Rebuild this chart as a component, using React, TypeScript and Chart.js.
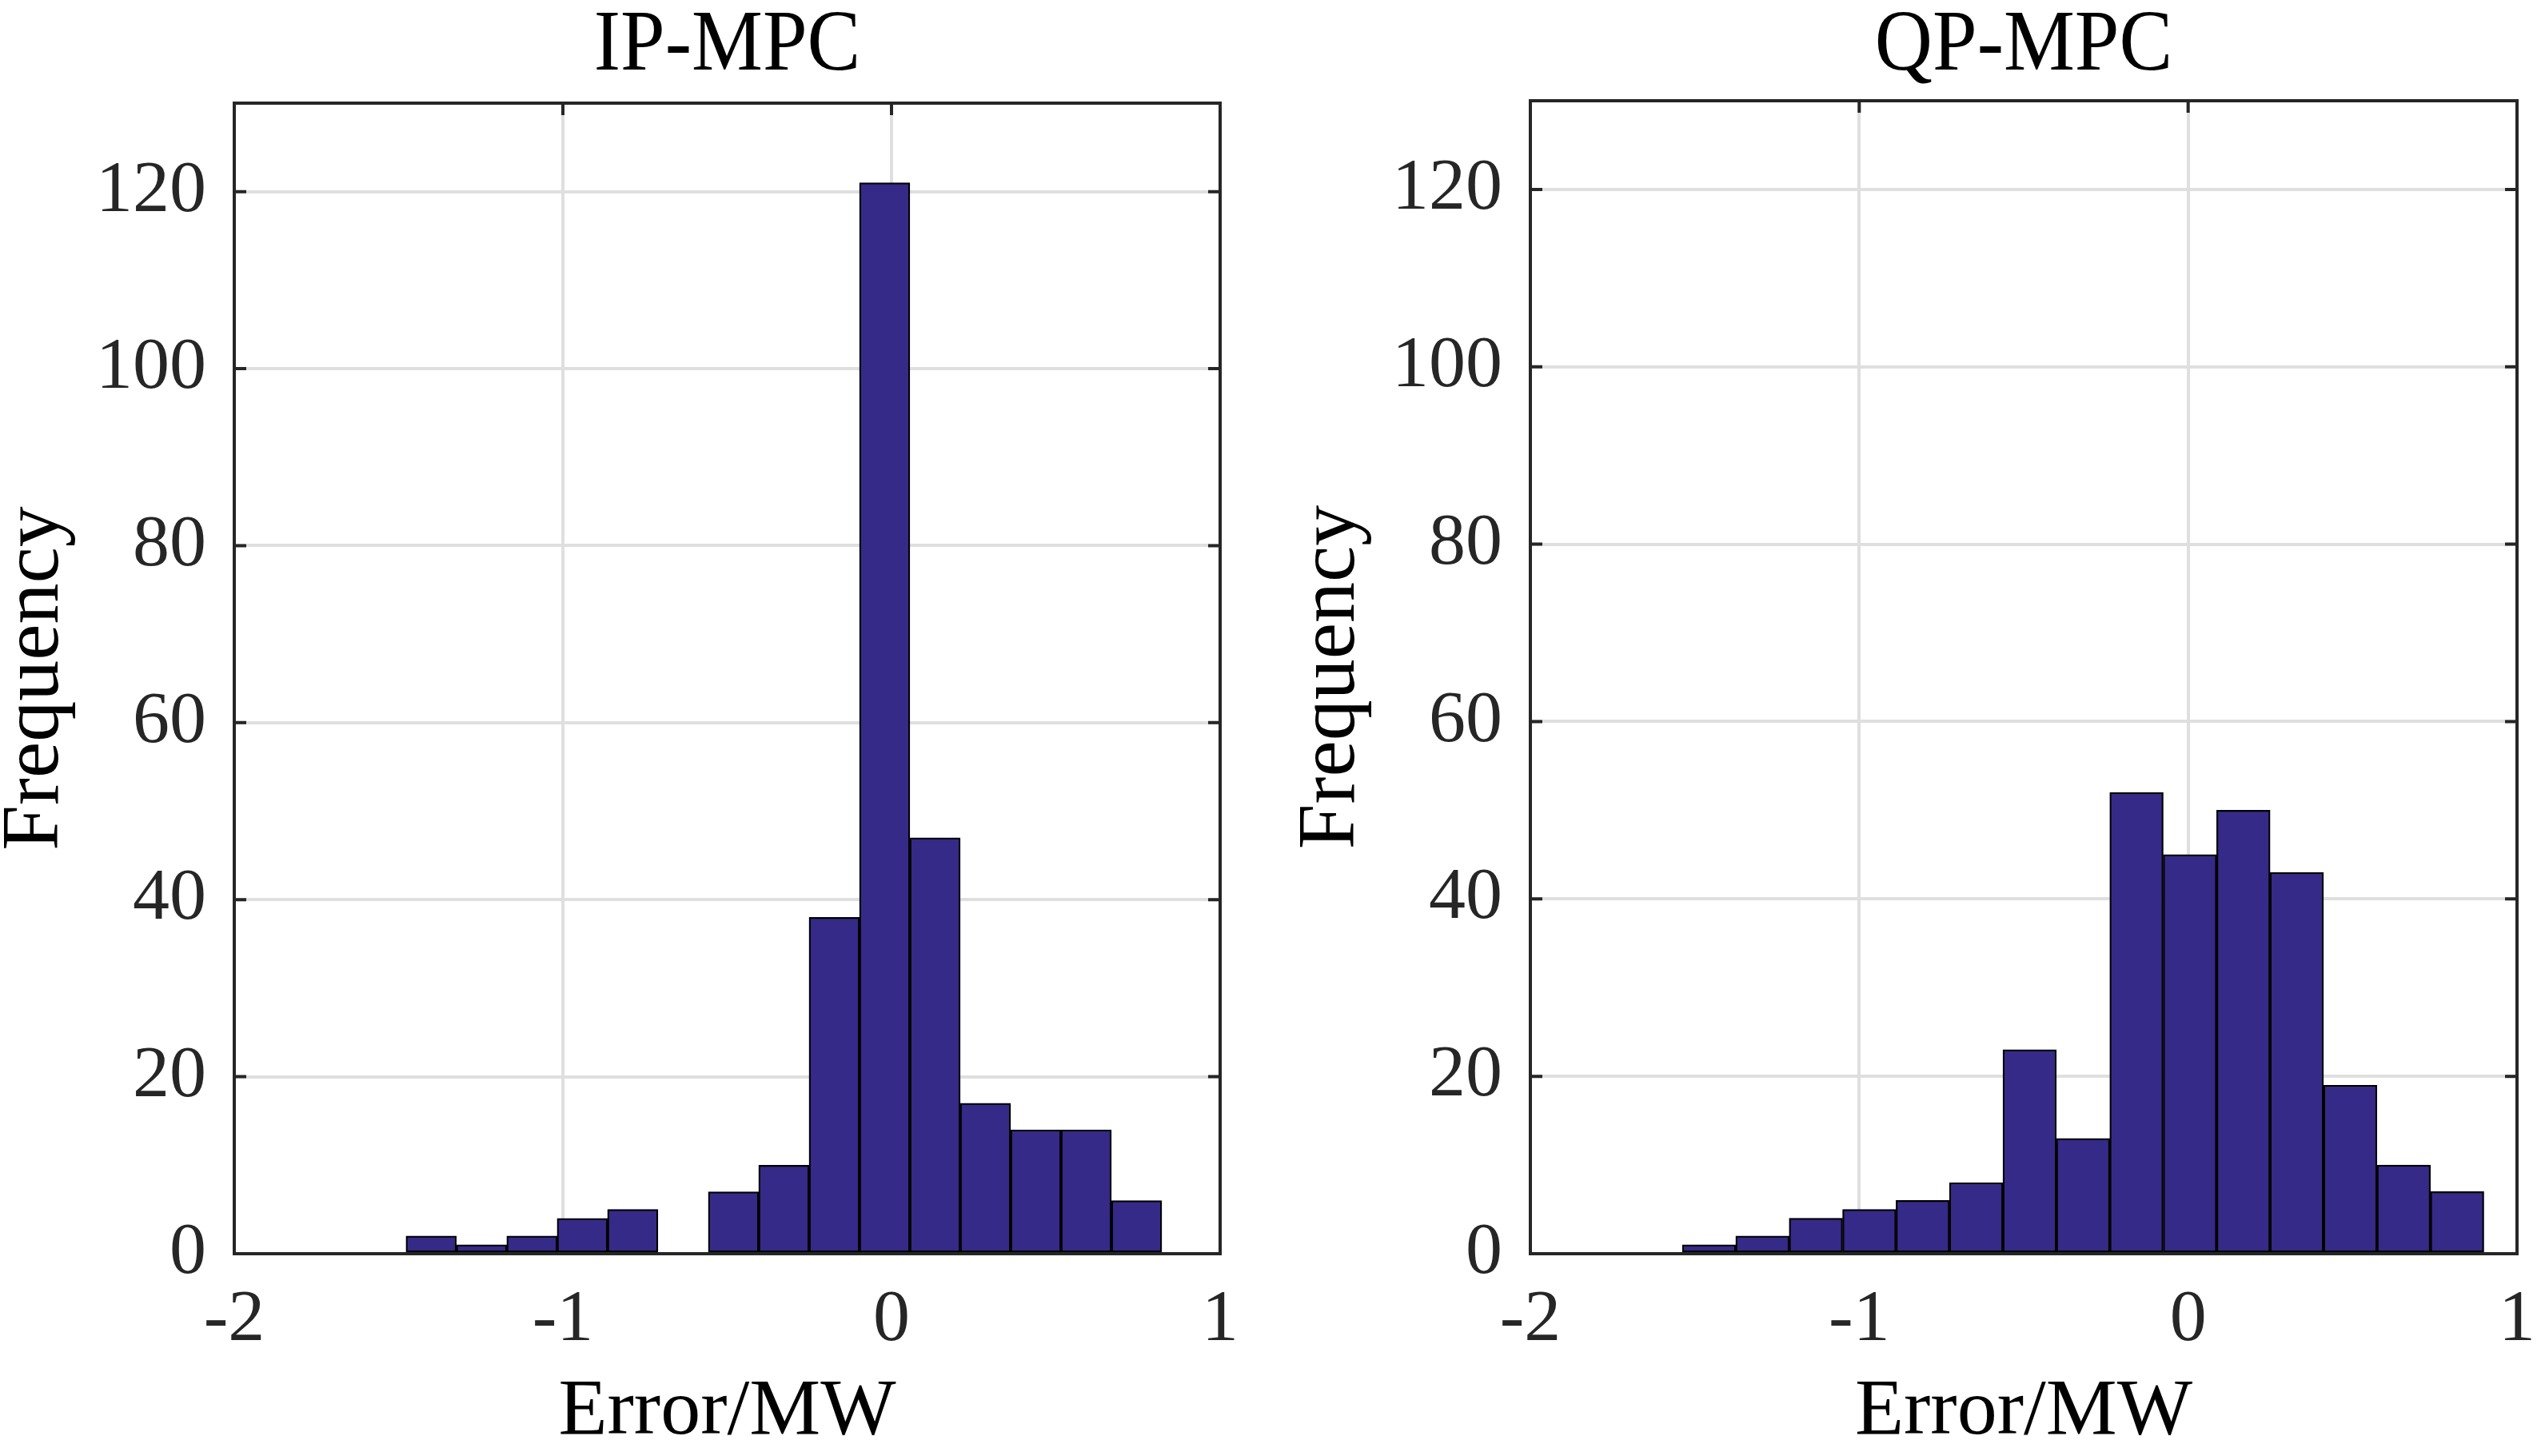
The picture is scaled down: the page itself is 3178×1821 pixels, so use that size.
import React, { useEffect, useRef } from "react";
import { Chart, registerables } from "chart.js";

Chart.register(...registerables);

// ---- data ----
const xTickValues = [-2, -1, 0, 1];
const yTickValues = [0, 20, 40, 60, 80, 100, 120];

const ipTitle = "IP-MPC";
const ipBinEdges = [
  -1.4774, -1.3241, -1.1708, -1.0175, -0.8641, -0.7108, -0.5575, -0.4042,
  -0.2508, -0.0975, 0.0558, 0.2091, 0.3625, 0.5158, 0.6691, 0.8225,
];
const ipCounts = [2, 1, 2, 4, 5, 0, 7, 10, 38, 121, 47, 17, 14, 14, 6];

const qpTitle = "QP-MPC";
const qpBinEdges = [
  -1.538, -1.3755, -1.213, -1.0506, -0.8881, -0.7256, -0.5631, -0.4007,
  -0.2382, -0.0757, 0.0868, 0.2492, 0.4117, 0.5742, 0.7367, 0.8992,
];
const qpCounts = [1, 2, 4, 5, 6, 8, 23, 13, 52, 45, 50, 43, 19, 10, 7];

const xLabel = "Error/MW";
const yLabel = "Frequency";

const FONT = '"Liberation Serif", "Times New Roman", Times, serif';

const panelFrame = {
  id: "panelFrame",
  beforeDatasetsDraw(chart: any) {
    const { ctx, chartArea, scales } = chart;
    const { left, right, top, bottom } = chartArea;
    const x = scales.x;
    const y = scales.y;
    ctx.save();
    ctx.strokeStyle = "#262626";
    ctx.lineWidth = 4;
    ctx.lineCap = "butt";
    ctx.beginPath();
    x.ticks.forEach((t: any) => {
      const p = x.getPixelForValue(t.value);
      ctx.moveTo(p, bottom);
      ctx.lineTo(p, bottom - 15);
      ctx.moveTo(p, top);
      ctx.lineTo(p, top + 15);
    });
    y.ticks.forEach((t: any) => {
      const p = y.getPixelForValue(t.value);
      ctx.moveTo(left, p);
      ctx.lineTo(left + 15, p);
      ctx.moveTo(right, p);
      ctx.lineTo(right - 15, p);
    });
    ctx.stroke();
    ctx.strokeRect(left, top, right - left, bottom - top);
    ctx.restore();
  },
  afterDraw(chart: any, _args: any, opts: any) {
    const { ctx, chartArea } = chart;
    ctx.save();
    ctx.fillStyle = "#000000";
    ctx.font = `100px ${FONT}`;
    ctx.textAlign = "center";
    ctx.textBaseline = "alphabetic";
    ctx.translate((chartArea.left + chartArea.right) / 2, 87);
    ctx.scale(1, 1.08);
    ctx.fillText(opts.text, 0, 0);
    ctx.restore();
  },
};

type PanelProps = {
  title: string;
  edges: number[];
  counts: number[];
  left: number;
  width: number;
  padRight: number;
  padTop: number;
};

function Panel({ title, edges, counts, left, width, padRight, padTop }: PanelProps) {
  const ref = useRef<HTMLCanvasElement | null>(null);

  useEffect(() => {
    if (!ref.current) return;
    const points = counts.map((c, i) => ({ x: (edges[i] + edges[i + 1]) / 2, y: c }));
    const chart = new Chart(ref.current, {
      type: "bar",
      data: {
        datasets: [
          {
            data: points as any,
            backgroundColor: "#352a87",
            borderColor: "#000000",
            borderWidth: 2.25,
            borderSkipped: false,
            barPercentage: 1,
            categoryPercentage: 1,
          } as any,
        ],
      },
      options: {
        animation: false,
        responsive: false,
        devicePixelRatio: 1,
        layout: { padding: { left: 0, right: padRight, top: padTop, bottom: 0 } },
        plugins: {
          legend: { display: false },
          tooltip: { enabled: false },
          title: { display: false },
          panelFrame: { text: title },
        } as any,
        scales: {
          x: {
            type: "linear",
            min: -2,
            max: 1,
            offset: false,
            afterBuildTicks: (s: any) => {
              s.ticks = xTickValues.map((v) => ({ value: v }));
            },
            afterFit: (s: any) => {
              s.height = 253;
              s.paddingLeft = 0;
              s.paddingRight = 0;
            },
            grid: { color: "#dfdfdf", lineWidth: 4, drawTicks: false, offset: false },
            border: { display: false },
            ticks: {
              padding: 38,
              color: "#262626",
              autoSkip: false,
              maxRotation: 0,
              font: { family: FONT, size: 92, lineHeight: 1 },
              callback: (v: any) => String(v),
            },
            title: {
              display: true,
              text: xLabel,
              color: "#000000",
              font: { family: FONT, size: 100, lineHeight: 1 },
              padding: { top: 0, bottom: 4 },
            },
          },
          y: {
            type: "linear",
            min: 0,
            max: 130,
            afterBuildTicks: (s: any) => {
              s.ticks = yTickValues.map((v) => ({ value: v }));
            },
            afterFit: (s: any) => {
              s.width = 293;
            },
            grid: { color: "#dfdfdf", lineWidth: 4, drawTicks: false },
            border: { display: false },
            ticks: {
              padding: 35,
              color: "#262626",
              autoSkip: false,
              font: { family: FONT, size: 92, lineHeight: 1 },
              callback: (v: any) => String(v),
            },
            title: {
              display: true,
              text: yLabel,
              color: "#000000",
              font: { family: FONT, size: 102, lineHeight: 0.88 },
              padding: 0,
            },
          },
        },
      } as any,
      plugins: [panelFrame as any],
    });
    return () => chart.destroy();
  }, [title, edges, counts, padRight, padTop]);

  return (
    <canvas
      ref={ref}
      width={width}
      height={1821}
      style={{ position: "absolute", left, top: 0, width, height: 1821 }}
    />
  );
}

export default function App() {
  return (
    <div
      style={{
        position: "fixed",
        left: 0,
        top: 0,
        width: 3178,
        height: 1821,
        background: "#ffffff",
        overflow: "hidden",
      }}
    >
      <Panel title={ipTitle} edges={ipBinEdges} counts={ipCounts} left={0} width={1621} padRight={95} padTop={129} />
      <Panel title={qpTitle} edges={qpBinEdges} counts={qpCounts} left={1621} width={1557} padRight={30} padTop={126} />
    </div>
  );
}
